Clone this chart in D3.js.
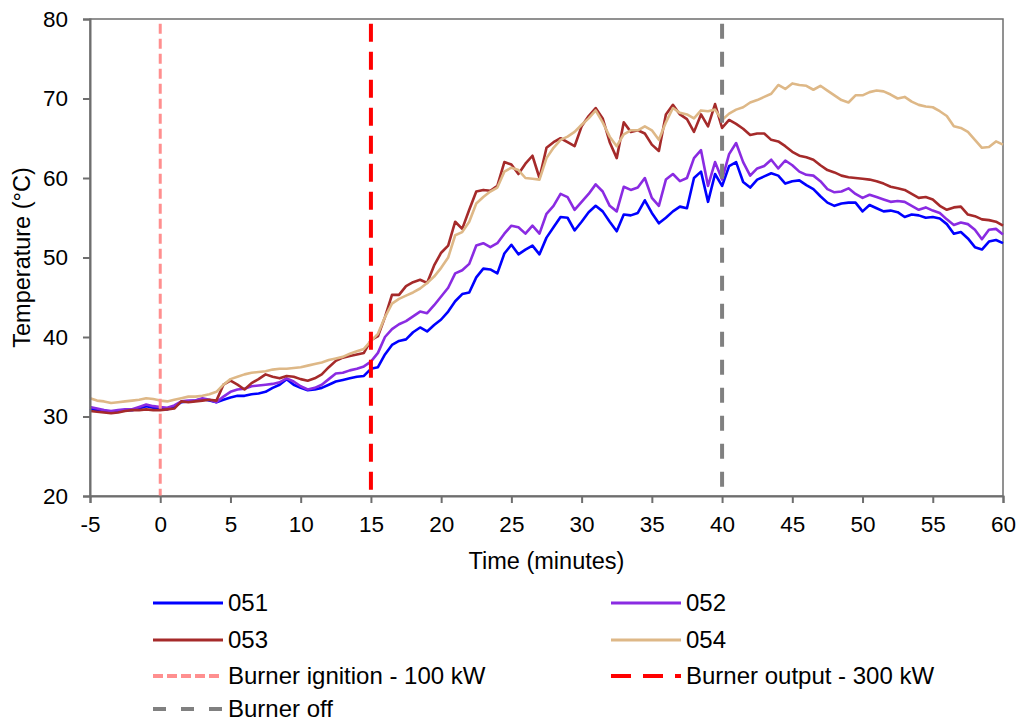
<!DOCTYPE html>
<html>
<head>
<meta charset="utf-8">
<script src="https://cdn.jsdelivr.net/npm/d3@7"></script>
<style>
	body { margin: 0; background: #fff; }
	text { font-family: "Liberation Sans", Arial, sans-serif; fill: #000; }
</style>
</head>
<body>
<div id="containerChart"></div>
<script>
// time axis (minutes), sampled every half minute
var minutes = [-5, -4.5, -4, -3.5, -3, -2.5, -2, -1.5, -1, -0.5, 0, 0.5, 1, 1.5, 2, 2.5, 3, 3.5, 4, 4.5,
	5, 5.5, 6, 6.5, 7, 7.5, 8, 8.5, 9, 9.5, 10, 10.5, 11, 11.5, 12, 12.5, 13, 13.5, 14, 14.5,
	15, 15.5, 16, 16.5, 17, 17.5, 18, 18.5, 19, 19.5, 20, 20.5, 21, 21.5, 22, 22.5, 23, 23.5, 24, 24.5,
	25, 25.5, 26, 26.5, 27, 27.5, 28, 28.5, 29, 29.5, 30, 30.5, 31, 31.5, 32, 32.5, 33, 33.5, 34, 34.5,
	35, 35.5, 36, 36.5, 37, 37.5, 38, 38.5, 39, 39.5, 40, 40.5, 41, 41.5, 42, 42.5, 43, 43.5, 44, 44.5,
	45, 45.5, 46, 46.5, 47, 47.5, 48, 48.5, 49, 49.5, 50, 50.5, 51, 51.5, 52, 52.5, 53, 53.5, 54, 54.5,
	55, 55.5, 56, 56.5, 57, 57.5, 58, 58.5, 59, 59.5, 60];

// temperature readings per sensor (°C)
var t051 = [31.0, 30.8, 30.7, 30.6, 30.7, 30.8, 30.8, 31.0, 31.3, 31.1, 31.0, 30.9, 31.2, 31.8, 31.9, 32.0, 32.2, 32.0, 31.8, 32.1,
	32.4, 32.6, 32.6, 32.8, 32.9, 33.1, 33.6, 34.0, 34.7, 34.0, 33.6, 33.3, 33.4, 33.6, 34.0, 34.4, 34.6, 34.8, 35.0, 35.1,
	36.0, 36.2, 37.8, 39.0, 39.5, 39.7, 40.6, 41.2, 40.7, 41.5, 42.2, 43.2, 44.5, 45.4, 45.6, 47.5, 48.6, 48.5, 48.0, 50.5,
	51.6, 50.4, 51.0, 51.5, 50.4, 52.5, 53.8, 55.1, 55.0, 53.4, 54.5, 55.7, 56.5, 55.8, 54.5, 53.3, 55.4, 55.3, 55.6, 57.2,
	55.6, 54.3, 55.0, 55.8, 56.4, 56.2, 60.0, 60.8, 57.0, 60.5, 59.0, 61.5, 62.0, 59.5, 58.8, 59.8, 60.2, 60.6, 60.3, 59.3,
	59.6, 59.7, 59.1, 58.6, 57.7, 56.9, 56.5, 56.8, 56.9, 56.9, 55.8, 56.6, 56.2, 55.8, 55.9, 55.7, 55.1, 55.4, 55.3, 55.0,
	55.1, 54.9, 54.2, 53.0, 53.2, 52.4, 51.3, 51.0, 52.0, 52.2, 51.8];

var t052 = [31.2, 31.0, 30.8, 30.7, 30.8, 30.9, 30.9, 31.2, 31.5, 31.3, 31.2, 31.1, 31.4, 31.9, 32.0, 32.0, 32.3, 32.1, 31.8, 32.5,
	33.1, 33.4, 33.5, 33.8, 33.9, 34.0, 34.1, 34.3, 34.8, 34.4, 33.8, 33.4, 33.6, 34.0, 34.7, 35.4, 35.5, 35.8, 36.0, 36.3,
	36.9, 38.0, 40.0, 41.0, 41.6, 42.0, 42.6, 43.2, 43.0, 44.0, 45.1, 46.2, 48.0, 48.4, 49.2, 51.5, 51.8, 51.3, 51.8, 53.0,
	54.0, 53.8, 53.0, 54.0, 53.0, 55.5, 56.5, 58.0, 57.6, 56.0, 57.0, 58.0, 59.2, 58.3, 56.5, 55.8, 58.9, 58.5, 58.8, 60.0,
	57.5, 56.5, 59.8, 60.5, 59.6, 60.0, 62.5, 63.5, 59.0, 62.0, 59.8, 63.0, 64.4, 62.0, 60.3, 61.2, 61.5, 62.3, 61.2, 62.2,
	61.6, 60.8, 60.4, 60.3, 59.6, 58.6, 58.2, 58.3, 58.7, 58.0, 57.5, 57.9, 57.6, 57.3, 57.0, 57.1, 57.0, 56.5, 56.0, 56.3,
	55.9, 55.6, 54.8, 54.1, 54.4, 54.2, 53.5, 52.3, 53.5, 53.6, 52.9];

var t053 = [30.7, 30.6, 30.5, 30.4, 30.5, 30.7, 30.8, 30.8, 30.9, 30.8, 30.8, 30.9, 31.0, 31.9, 31.8, 31.9, 32.0, 32.1, 32.0, 34.0,
	34.5, 34.0, 33.4, 34.2, 34.7, 35.3, 35.0, 34.8, 35.1, 35.0, 34.7, 34.5, 34.8, 35.3, 36.2, 37.0, 37.4, 37.6, 37.8, 38.0,
	39.6, 40.1, 42.5, 45.3, 45.3, 46.4, 46.9, 47.2, 46.8, 49.0, 50.6, 51.5, 54.5, 53.6, 56.0, 58.3, 58.5, 58.4, 59.0, 62.0,
	61.7, 60.5, 61.8, 62.8, 60.0, 63.8, 64.5, 65.0, 64.5, 64.0, 66.5, 67.8, 68.8, 67.5, 64.5, 62.5, 67.0, 65.8, 66.0, 65.6,
	64.2, 63.4, 68.0, 69.2, 68.0, 67.4, 65.8, 68.0, 66.5, 69.3, 66.3, 67.3, 66.8, 66.2, 65.4, 65.6, 65.6, 64.8, 64.6, 64.0,
	63.3, 62.8, 62.6, 62.3, 61.6, 61.0, 60.7, 60.3, 60.1, 60.0, 59.9, 59.8, 59.6, 59.3, 58.9, 58.7, 58.5, 58.0, 57.5, 57.6,
	57.3, 56.5, 56.0, 56.3, 56.4, 55.4, 55.2, 54.8, 54.7, 54.5, 54.0];

var t054 = [32.3, 32.0, 31.9, 31.7, 31.8, 31.9, 32.0, 32.1, 32.3, 32.2, 32.0, 31.9, 32.1, 32.3, 32.5, 32.5, 32.6, 32.8, 33.1, 34.0,
	34.7, 35.0, 35.3, 35.5, 35.6, 35.7, 35.9, 36.0, 36.0, 36.1, 36.2, 36.4, 36.6, 36.8, 37.1, 37.3, 37.5, 37.9, 38.2, 38.5,
	39.5, 40.4, 42.5, 44.2, 44.8, 45.2, 45.6, 46.1, 46.8, 47.6, 48.7, 50.0, 52.8, 53.2, 54.5, 56.8, 57.6, 58.3, 58.8, 60.8,
	61.3, 61.0, 60.0, 59.9, 59.8, 62.5, 63.8, 64.8, 65.2, 65.8, 66.7, 67.5, 68.5, 67.0, 65.2, 64.0, 65.5, 66.0, 66.0, 66.5,
	66.0, 64.8, 67.0, 68.8, 68.2, 68.0, 67.5, 68.5, 68.4, 68.6, 67.3, 68.1, 68.6, 68.9, 69.5, 69.8, 70.2, 70.6, 71.7, 71.2,
	71.9, 71.7, 71.6, 71.1, 71.6, 71.0, 70.4, 69.8, 69.5, 70.4, 70.4, 70.8, 71.0, 70.9, 70.5, 70.0, 70.2, 69.6, 69.2, 69.0,
	68.9, 68.4, 67.8, 66.5, 66.3, 65.8, 64.8, 63.8, 63.9, 64.6, 64.2];

var seriesNames = ["051", "052", "053", "054"];
var seriesColors = ["#0000FF", "#8A2BE2", "#A52A2A", "#DEB887"];

// burner events (minutes)
var eventNames = ["Burner ignition - 100 kW", "Burner output - 300 kW", "Burner off"];
var eventTimes = [0, 15, 40];
var eventColors = ["#FF8F8F", "#FF0000", "#808080"];
var eventDash = ["10,5", "18,10", "15,13"];
var eventWidth = [3, 4, 4];

var xTicks = [-5, 0, 5, 10, 15, 20, 25, 30, 35, 40, 45, 50, 55, 60];
var yTicks = [20, 30, 40, 50, 60, 70, 80];

var width = 1022, height = 723;
var margin = { left: 90, right: 19, top: 19, bottom: 227 };

var svg = d3.select("#containerChart")
	.append("svg")
	.attr("width", width)
	.attr("height", height);

var x = d3.scaleLinear()
	.domain([-5, 60])
	.range([margin.left, width - margin.right]);

var y = d3.scaleLinear()
	.domain([20, 80])
	.range([height - margin.bottom, margin.top]);

var axisColor = "#6e6e6e";

// plot area border (top + right)
svg.append("rect")
	.attr("x", x(-5))
	.attr("y", y(80))
	.attr("width", x(60) - x(-5))
	.attr("height", y(20) - y(80))
	.attr("fill", "none")
	.attr("stroke", axisColor)
	.attr("stroke-width", 1.5);

// temperature lines
var tables = [t051, t052, t053, t054];

var line = d3.line()
	.x(function (d) { return x(d[0]); })
	.y(function (d) { return y(d[1]); });

tables.forEach(function (vals, i) {
	var pts = minutes.map(function (m, j) { return [m, vals[j]]; });
	svg.append("path")
		.datum(pts)
		.attr("d", line)
		.attr("fill", "none")
		.attr("stroke", seriesColors[i])
		.attr("stroke-width", 2.6)
		.attr("stroke-linejoin", "round");
});

// event markers
eventTimes.forEach(function (t, i) {
	svg.append("line")
		.attr("x1", x(t)).attr("x2", x(t))
		.attr("y1", y(79.4)).attr("y2", y(20))
		.attr("stroke", eventColors[i])
		.attr("stroke-width", eventWidth[i])
		.attr("stroke-dasharray", eventDash[i]);
});

// axes (plain hyphen for negatives, like the original)
var fmt = function (d) { return String(d); };

var xAxis = svg.append("g")
	.attr("transform", "translate(0," + y(20) + ")")
	.call(d3.axisBottom(x).tickValues(xTicks).tickFormat(fmt).tickSize(7).tickPadding(13));

var yAxis = svg.append("g")
	.attr("transform", "translate(" + x(-5) + ",0)")
	.call(d3.axisLeft(y).tickValues(yTicks).tickFormat(fmt).tickSize(7).tickPadding(15));

[xAxis, yAxis].forEach(function (g) {
	g.select(".domain").attr("stroke", axisColor).attr("stroke-width", 2);
	g.selectAll(".tick line").attr("stroke", axisColor).attr("stroke-width", 2);
	g.selectAll(".tick text")
		.style("font-family", "'Liberation Sans', Arial, sans-serif")
		.style("font-size", "22.5px")
		.attr("fill", "#000");
});

// axis titles
svg.append("text")
	.attr("x", (x(-5) + x(60)) / 2)
	.attr("y", 569)
	.attr("text-anchor", "middle")
	.style("font-size", "23.5px")
	.text("Time (minutes)");

svg.append("text")
	.attr("transform", "translate(30," + (y(50)) + ") rotate(-90)")
	.attr("text-anchor", "middle")
	.style("font-size", "23.5px")
	.text("Temperature (°C)");

// legend
var legendItems = seriesNames.map(function (n, i) {
	return { name: n, color: seriesColors[i], dash: null, w: 3 };
}).concat(eventNames.map(function (n, i) {
	return { name: n, color: eventColors[i], dash: ["10,4", "20,12", "13,15"][i], w: 4 };
}));

var legendRows = [603, 640, 676, 709];
var legendCols = [153, 611];

var legend = svg.selectAll("g.legend")
	.data(legendItems)
	.enter().append("g")
	.attr("class", "legend")
	.attr("transform", function (d, i) {
		return "translate(" + legendCols[i % 2] + "," + legendRows[Math.floor(i / 2)] + ")";
	});

legend.append("line")
	.attr("x1", 0).attr("x2", 70)
	.attr("stroke", function (d) { return d.color; })
	.attr("stroke-width", function (d) { return d.w; })
	.attr("stroke-dasharray", function (d) { return d.dash; });

legend.append("text")
	.attr("x", 75)
	.attr("dy", "0.35em")
	.style("font-size", "24px")
	.text(function (d) { return d.name; });
</script>
</body>
</html>
